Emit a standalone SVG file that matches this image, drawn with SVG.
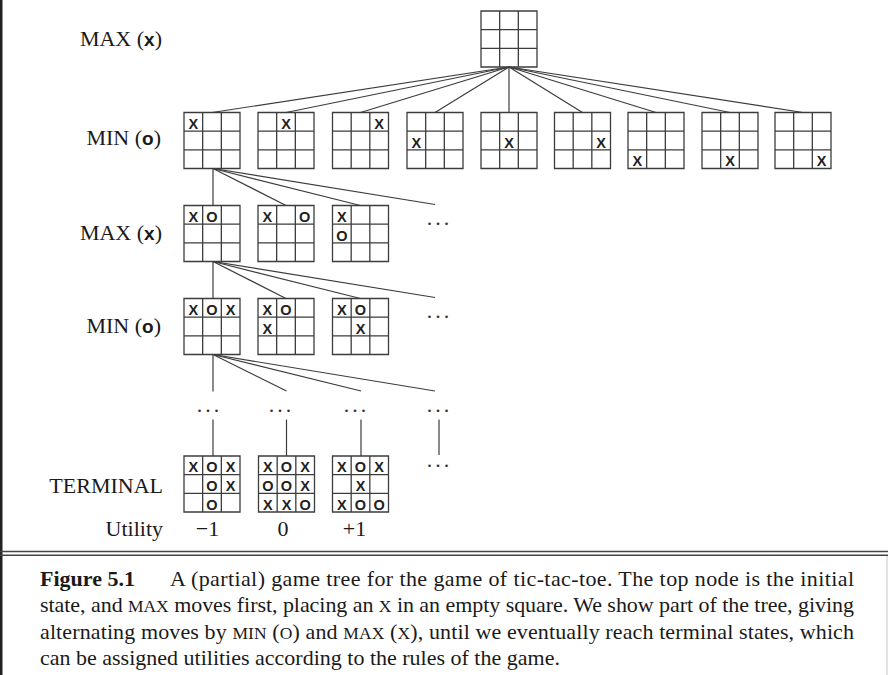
<svg xmlns="http://www.w3.org/2000/svg" xmlns:xlink="http://www.w3.org/1999/xlink" width="888" height="675" viewBox="0 0 888 675">
<defs>
<style>
.grid{fill:none;stroke:#3c3c3c;stroke-width:1.3}
.con line{stroke:#3c3c3c;stroke-width:1.2}
.m{font-family:"Liberation Sans",Arial,sans-serif;font-weight:bold;font-size:14.5px;text-anchor:middle;fill:#222}
.lb{font-family:"Liberation Serif","Times New Roman",serif;font-size:22px;fill:#1a1a1a;text-anchor:end}
.ls{font-family:"Liberation Sans",Arial,sans-serif;font-weight:bold;font-size:19px}
.ut{font-family:"Liberation Serif","Times New Roman",serif;font-size:22px;fill:#1a1a1a;text-anchor:middle}
.dots{font-family:"Liberation Serif","Times New Roman",serif;font-size:22px;letter-spacing:3px;fill:#333}
.cap{font-family:"Liberation Serif","Times New Roman",serif;font-size:22px;fill:#1a1a1a}
.sc{font-size:17.5px}
</style>
<path id="grid" class="grid" d="M0,0H56V56H0Z M18.67,0V56 M37.33,0V56 M0,18.67H56 M0,37.33H56"/>
</defs>
<rect width="888" height="675" fill="#fff"/>
<rect x="0" y="0" width="2.5" height="675" fill="#222"/>
<line x1="887" y1="556" x2="887" y2="675" stroke="#c8c8c8" stroke-width="1"/>

<g id="labels">
<text class="lb" x="162" y="46">MAX (<tspan class="ls">x</tspan>)</text>
<text class="lb" x="161" y="145">MIN (<tspan class="ls">o</tspan>)</text>
<text class="lb" x="162" y="239.5">MAX (<tspan class="ls">x</tspan>)</text>
<text class="lb" x="161" y="333">MIN (<tspan class="ls">o</tspan>)</text>
<text class="lb" x="163" y="493">TERMINAL</text>
<text class="lb" x="163" y="536">Utility</text>
<text class="ut" x="207.5" y="536">−1</text>
<text class="ut" x="283" y="536">0</text>
<text class="ut" x="354.5" y="536">+1</text>
</g>

<g id="connectors" class="con">
<line x1="509" y1="67" x2="212" y2="112.5"/>
<line x1="509" y1="67" x2="286" y2="112.5"/>
<line x1="509" y1="67" x2="360.5" y2="112.5"/>
<line x1="509" y1="67" x2="435" y2="112.5"/>
<line x1="509" y1="67" x2="509" y2="112.5"/>
<line x1="509" y1="67" x2="582.5" y2="112.5"/>
<line x1="509" y1="67" x2="656" y2="112.5"/>
<line x1="509" y1="67" x2="730" y2="112.5"/>
<line x1="509" y1="67" x2="803" y2="112.5"/>
<line x1="213" y1="168.5" x2="213" y2="205.5"/>
<line x1="213" y1="168.5" x2="286" y2="205.5"/>
<line x1="213" y1="168.5" x2="360.5" y2="205.5"/>
<line x1="213" y1="168.5" x2="435" y2="204.5"/>
<line x1="213" y1="261.5" x2="213" y2="298.5"/>
<line x1="213" y1="261.5" x2="286" y2="298.5"/>
<line x1="213" y1="261.5" x2="360.5" y2="298.5"/>
<line x1="213" y1="261.5" x2="435" y2="297.5"/>
<line x1="213" y1="354.5" x2="213" y2="391.5"/>
<line x1="213" y1="354.5" x2="286.5" y2="391"/>
<line x1="213" y1="354.5" x2="361" y2="391"/>
<line x1="213" y1="354.5" x2="435" y2="391"/>
<line x1="213" y1="419.5" x2="213" y2="456"/>
<line x1="286.5" y1="419.5" x2="286.5" y2="456"/>
<line x1="361" y1="419.5" x2="361" y2="456"/>
<line x1="439" y1="419.5" x2="439" y2="455"/>
</g>

<g id="ellipses">
<text class="dots" x="426.75" y="225.2">...</text>
<text class="dots" x="426.75" y="317.7">...</text>
<text class="dots" x="196.75" y="411.7">...</text>
<text class="dots" x="268.75" y="411.7">...</text>
<text class="dots" x="343.75" y="411.7">...</text>
<text class="dots" x="426.75" y="411.7">...</text>
<text class="dots" x="426.75" y="467.2">...</text>
</g>

<g id="root"><use xlink:href="#grid" x="481" y="11"/></g>

<g id="min1"><use xlink:href="#grid" x="184" y="112.5"/><text class="m" x="193.33" y="128.8">X</text></g>
<g id="min2"><use xlink:href="#grid" x="258" y="112.5"/><text class="m" x="286" y="128.8">X</text></g>
<g id="min3"><use xlink:href="#grid" x="332.5" y="112.5"/><text class="m" x="379.17" y="128.8">X</text></g>
<g id="min4"><use xlink:href="#grid" x="407" y="112.5"/><text class="m" x="416.33" y="147.5">X</text></g>
<g id="min5"><use xlink:href="#grid" x="481" y="112.5"/><text class="m" x="509" y="147.5">X</text></g>
<g id="min6"><use xlink:href="#grid" x="554.5" y="112.5"/><text class="m" x="601.17" y="147.5">X</text></g>
<g id="min7"><use xlink:href="#grid" x="628" y="112.5"/><text class="m" x="637.33" y="166.1">X</text></g>
<g id="min8"><use xlink:href="#grid" x="702" y="112.5"/><text class="m" x="730" y="166.1">X</text></g>
<g id="min9"><use xlink:href="#grid" x="775" y="112.5"/><text class="m" x="821.67" y="166.1">X</text></g>

<g id="max1"><use xlink:href="#grid" x="184" y="205.5"/><text class="m" x="193.33" y="221.8">X</text><text class="m" x="212" y="221.8">O</text></g>
<g id="max2"><use xlink:href="#grid" x="258" y="205.5"/><text class="m" x="267.33" y="221.8">X</text><text class="m" x="304.67" y="221.8">O</text></g>
<g id="max3"><use xlink:href="#grid" x="332.5" y="205.5"/><text class="m" x="341.83" y="221.8">X</text><text class="m" x="341.83" y="240.5">O</text></g>

<g id="minb1"><use xlink:href="#grid" x="184" y="298.5"/><text class="m" x="193.33" y="314.8">X</text><text class="m" x="212" y="314.8">O</text><text class="m" x="230.67" y="314.8">X</text></g>
<g id="minb2"><use xlink:href="#grid" x="258" y="298.5"/><text class="m" x="267.33" y="314.8">X</text><text class="m" x="286" y="314.8">O</text><text class="m" x="267.33" y="333.5">X</text></g>
<g id="minb3"><use xlink:href="#grid" x="332.5" y="298.5"/><text class="m" x="341.83" y="314.8">X</text><text class="m" x="360.5" y="314.8">O</text><text class="m" x="360.5" y="333.5">X</text></g>

<g id="term1"><use xlink:href="#grid" x="184" y="456"/>
<text class="m" x="193.33" y="472.3">X</text><text class="m" x="212" y="472.3">O</text><text class="m" x="230.67" y="472.3">X</text>
<text class="m" x="212" y="491">O</text><text class="m" x="230.67" y="491">X</text>
<text class="m" x="212" y="509.6">O</text></g>
<g id="term2"><use xlink:href="#grid" x="258.5" y="456"/>
<text class="m" x="267.83" y="472.3">X</text><text class="m" x="286.5" y="472.3">O</text><text class="m" x="305.17" y="472.3">X</text>
<text class="m" x="267.83" y="491">O</text><text class="m" x="286.5" y="491">O</text><text class="m" x="305.17" y="491">X</text>
<text class="m" x="267.83" y="509.6">X</text><text class="m" x="286.5" y="509.6">X</text><text class="m" x="305.17" y="509.6">O</text></g>
<g id="term3"><use xlink:href="#grid" x="332.5" y="456"/>
<text class="m" x="341.83" y="472.3">X</text><text class="m" x="360.5" y="472.3">O</text><text class="m" x="379.17" y="472.3">X</text>
<text class="m" x="360.5" y="491">X</text>
<text class="m" x="341.83" y="509.6">X</text><text class="m" x="360.5" y="509.6">O</text><text class="m" x="379.17" y="509.6">O</text></g>

<g id="separator">
<line x1="0" y1="551.5" x2="888" y2="551.5" stroke="#444" stroke-width="1.4"/>
<line x1="0" y1="555.2" x2="888" y2="555.2" stroke="#444" stroke-width="1.4"/>
</g>

<g id="caption">
<text class="cap" x="40" y="586" font-weight="bold">Figure 5.1</text>
<text class="cap" x="170" y="586" textLength="684" lengthAdjust="spacing">A (partial) game tree for the game of tic-tac-toe.  The top node is the initial</text>
<text class="cap" x="40" y="612" textLength="814" lengthAdjust="spacing">state, and <tspan class="sc">MAX</tspan> moves first, placing an <tspan class="sc">X</tspan> in an empty square. We show part of the tree, giving</text>
<text class="cap" x="40" y="639" textLength="814" lengthAdjust="spacing">alternating moves by <tspan class="sc">MIN</tspan> (<tspan class="sc">O</tspan>) and <tspan class="sc">MAX</tspan> (<tspan class="sc">X</tspan>), until we eventually reach terminal states, which</text>
<text class="cap" x="40" y="665">can be assigned utilities according to the rules of the game.</text>
</g>
</svg>
